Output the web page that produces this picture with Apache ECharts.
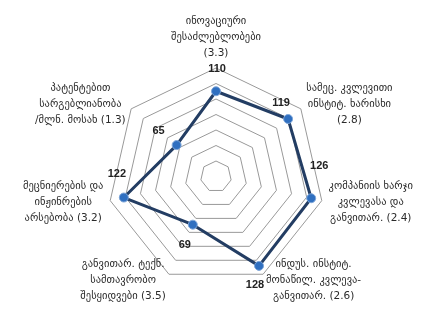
<!DOCTYPE html>
<html>
<head>
<meta charset="utf-8">
<script src="https://cdn.jsdelivr.net/npm/echarts@6/dist/echarts.min.js"></script>
<style>
  html, body { margin: 0; padding: 0; background: #fff; }
  #chart { width: 426px; height: 309px; }
</style>
</head>
<body>
<div id="chart"></div>
<script>
// indicators, counter-clockwise from the top (echarts order)
const indicatorNames = [
  "ინოვაციური\nშესაძლებლობები\n(3.3)",
  "პატენტებით\nსარგებლიანობა\n/მლნ. მოსახ (1.3)",
  "მეცნიერების და\nინჟინრების\nარსებობა (3.2)",
  "განვითარ. ტექნ.\nსამთავრობო\nშესყიდვები (3.5)",
  "ინდუს. ინსტიტ.\nმონაწილ. კვლევა-\nგანვითარ. (2.6)",
  "კომპანიის ხარჯი\nკვლევასა და\nგანვითარ. (2.4)",
  "სამეც. კვლევითი\nინსტიტ. ხარისხი\n(2.8)"
];
const rankValues = [110, 65, 122, 69, 128, 126, 119];
const axisMax = 140;

// where each value label sits relative to its point (px)
const labelOffsets = [[1, -22], [-18, -14], [-7, -24], [-8, 20], [-4, 19], [8, -32], [-7, -16]];

const chart = echarts.init(document.getElementById("chart"));

const labelItems = rankValues.map((v, i) => ({
  value: rankValues,
  symbolSize: 0,
  lineStyle: { opacity: 0, width: 0 },
  label: {
    show: true,
    position: "inside",
    offset: labelOffsets[i],
    formatter: (p) => (p.value === v ? String(v) : ""),
    fontFamily: "Liberation Sans",
    fontWeight: "bold",
    fontSize: 11,
    color: "#222"
  }
}));

chart.setOption({
  animation: false,
  radar: {
    center: [216, 176.5],
    radius: 108.5,
    startAngle: 90,
    splitNumber: 7,
    shape: "polygon",
    nameGap: 7,
    indicator: indicatorNames.map((name) => ({ name: name, min: 0, max: axisMax })),
    axisName: {
      color: "#333",
      formatter: (name) => name.split("\n").map((s) => "{c|" + s + "}").join("\n"),
      rich: {
        c: {
          align: "center",
          fontFamily: "DejaVu Sans",
          fontSize: 10.5,
          lineHeight: 16,
          color: "#2a2a2a"
        }
      }
    },
    axisLine: { show: false },
    axisTick: { show: false },
    axisLabel: { show: false },
    splitArea: { show: false },
    splitLine: { lineStyle: { color: "#999", width: 1 } }
  },
  series: [
    {
      type: "radar",
      symbol: "circle",
      data: [
        {
          value: rankValues,
          symbolSize: 9,
          itemStyle: { color: "#2f6fc0", borderColor: "#7fa6d8", borderWidth: 1 },
          lineStyle: { color: "#233d63", width: 3 },
          label: { show: false }
        }
      ].concat(labelItems)
    }
  ]
});
</script>
</body>
</html>
